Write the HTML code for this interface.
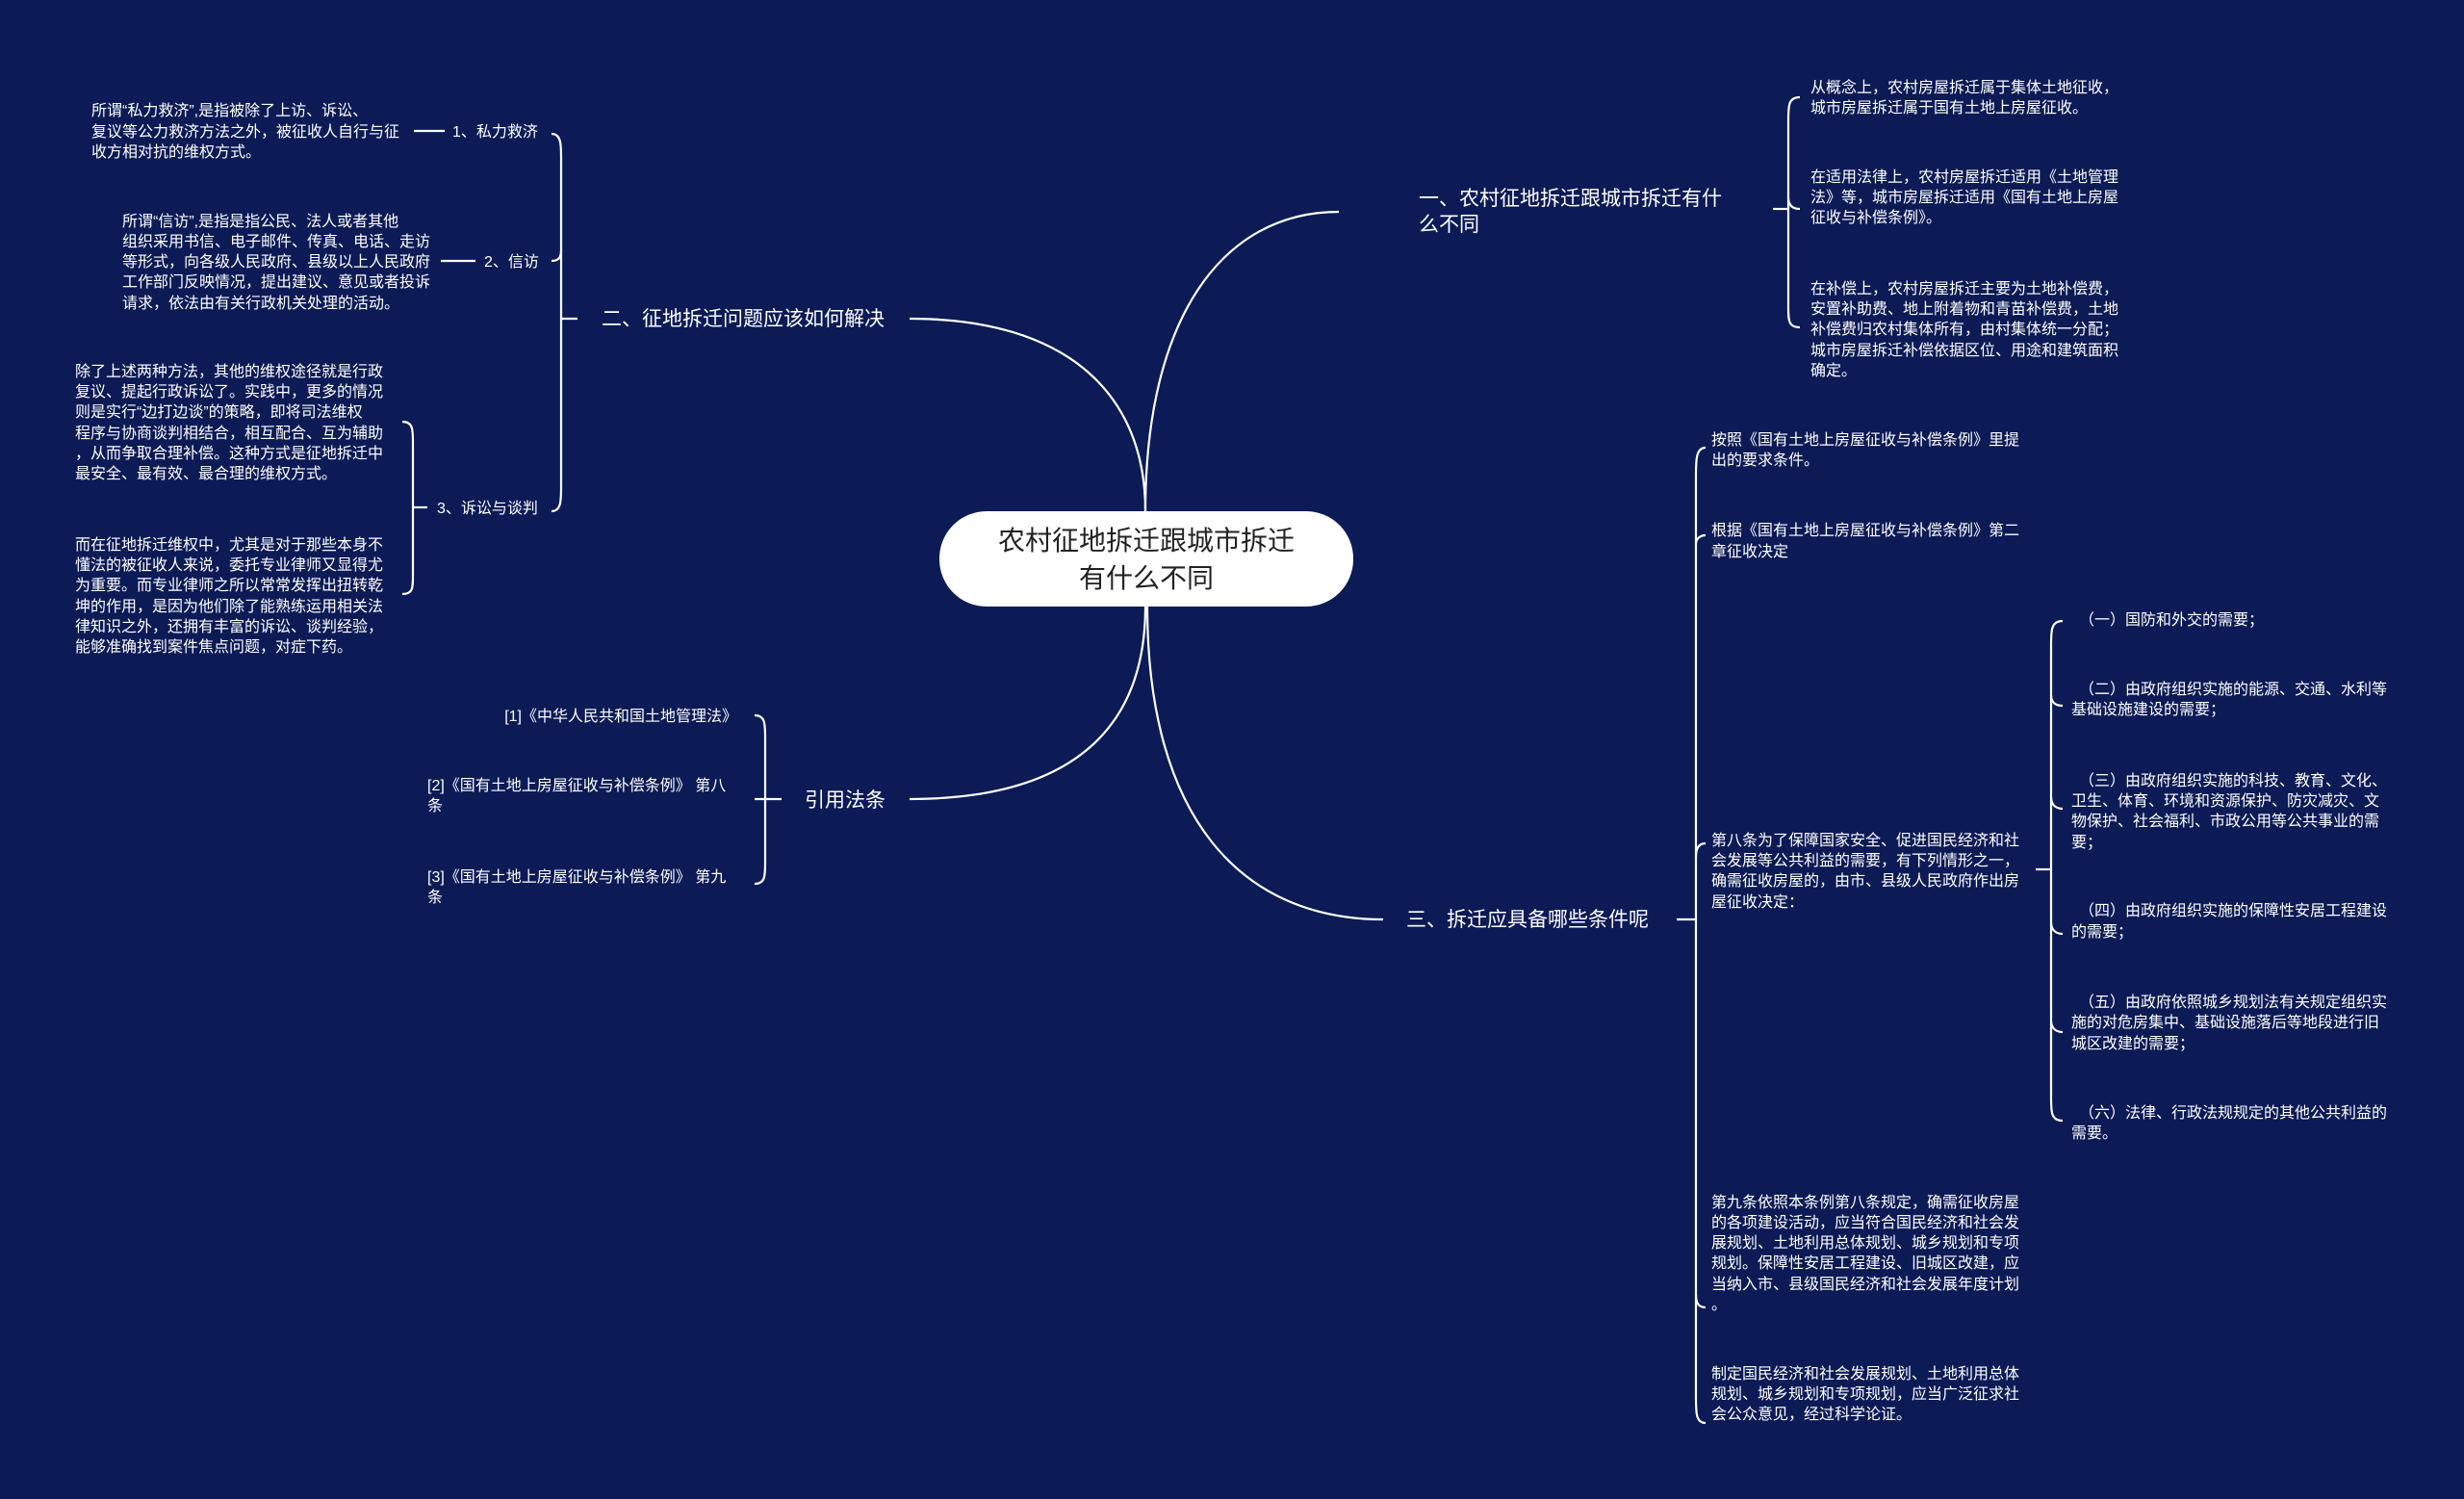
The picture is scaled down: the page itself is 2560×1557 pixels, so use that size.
<!DOCTYPE html>
<html><head><meta charset="utf-8"><style>
html,body{margin:0;padding:0;background:#0c1b56;}
svg{display:block}
text{font-family:"Liberation Sans","Noto Sans CJK SC",sans-serif;fill:#fff;}
.s{font-size:16px}
.m{font-size:21px}
</style></head><body>
<svg width="2560" height="1557" viewBox="0 0 2560 1557" xmlns="http://www.w3.org/2000/svg">
<rect width="2560" height="1557" fill="#0c1b56"/>
<g fill="none" stroke="#fff" stroke-width="2.2">
<!-- main curves -->
<path d="M1190 531 C1190 330 1270 220 1391 220"/>
<path d="M1190 531 C1190 410 1110 331 945 331"/>
<path d="M1190 630 C1190 760 1110 830 945 830"/>
<path d="M1192 630 C1192 850 1290 955 1437 955"/>
<!-- bracket 一 -->
<path d="M1870 101 C1858 101 1858 110 1858 125 L1858 318 C1858 333 1858 340 1870 340"/>
<path d="M1842 217 L1858 217"/>
<path d="M1858 205 C1858 213 1862 217 1870 217"/>
<!-- bracket 二 -->
<path d="M573 139 C583 139 583 150 583 165 L583 505 C583 520 583 531 573 531"/>
<path d="M583 331 L600 331"/>
<path d="M583 260 C583 268 580 271 573 271"/>
<path d="M430 136 L462 136"/>
<path d="M458 271 L494 271"/>
<!-- bracket 3 -->
<path d="M418 438 C429 438 429 446 429 460 L429 597 C429 611 429 617 418 617"/>
<path d="M429 527 L444 527"/>
<!-- bracket 引用 -->
<path d="M784 743 C795 743 795 752 795 766 L795 895 C795 910 795 918 784 918"/>
<path d="M784 830 L812 830"/>
<!-- bracket 三 -->
<path d="M1772 465 C1762 465 1762 478 1762 495 L1762 1450 C1762 1468 1762 1478 1772 1478"/>
<path d="M1742 955 L1762 955"/>
<path d="M1762 565 C1762 560 1766 556 1772 556"/>
<path d="M1762 890 C1762 880 1766 876 1772 876"/>
<path d="M1762 1345 C1762 1355 1766 1358 1772 1358"/>
<!-- sub bracket -->
<path d="M2143 645 C2131 645 2131 655 2131 670 L2131 1140 C2131 1155 2131 1164 2143 1164"/>
<path d="M2115 903 L2131 903"/>
<path d="M2131 722 C2131 730 2136 733 2143 733"/>
<path d="M2131 828 C2131 836 2136 840 2143 840"/>
<path d="M2131 958 C2131 966 2136 970 2143 970"/>
<path d="M2131 1060 C2131 1068 2136 1072 2143 1072"/>
</g>
<!-- center node -->
<rect x="976" y="531" width="430" height="99" rx="49" fill="#fff"/>
<text x="1191" y="571" font-size="28" text-anchor="middle" style="fill:#222">农村征地拆迁跟城市拆迁</text>
<text x="1191" y="610" font-size="28" text-anchor="middle" style="fill:#222">有什么不同</text>

<!-- 一 -->
<text class="m" x="1474" y="213">一、农村征地拆迁跟城市拆迁有什</text>
<text class="m" x="1474" y="240">么不同</text>
<text class="s" x="1881" y="96">从概念上，农村房屋拆迁属于集体土地征收，</text>
<text class="s" x="1881" y="117">城市房屋拆迁属于国有土地上房屋征收。</text>
<text class="s" x="1881" y="189">在适用法律上，农村房屋拆迁适用《土地管理</text>
<text class="s" x="1881" y="210">法》等，城市房屋拆迁适用《国有土地上房屋</text>
<text class="s" x="1881" y="231">征收与补偿条例》。</text>
<text class="s" x="1881" y="305">在补偿上，农村房屋拆迁主要为土地补偿费，</text>
<text class="s" x="1881" y="326">安置补助费、地上附着物和青苗补偿费，土地</text>
<text class="s" x="1881" y="347">补偿费归农村集体所有，由村集体统一分配；</text>
<text class="s" x="1881" y="369">城市房屋拆迁补偿依据区位、用途和建筑面积</text>
<text class="s" x="1881" y="390">确定。</text>

<!-- 二 -->
<text class="m" x="625" y="338">二、征地拆迁问题应该如何解决</text>
<text class="s" x="470" y="142">1、私力救济</text>
<text class="s" x="95" y="120">所谓“私力救济”,是指被除了上访、诉讼、</text>
<text class="s" x="95" y="142">复议等公力救济方法之外，被征收人自行与征</text>
<text class="s" x="95" y="163">收方相对抗的维权方式。</text>
<text class="s" x="503" y="277">2、信访</text>
<text class="s" x="127" y="235">所谓“信访”,是指是指公民、法人或者其他</text>
<text class="s" x="127" y="256">组织采用书信、电子邮件、传真、电话、走访</text>
<text class="s" x="127" y="277">等形式，向各级人民政府、县级以上人民政府</text>
<text class="s" x="127" y="298">工作部门反映情况，提出建议、意见或者投诉</text>
<text class="s" x="127" y="320">请求，依法由有关行政机关处理的活动。</text>
<text class="s" x="454" y="533">3、诉讼与谈判</text>
<text class="s" x="78" y="391">除了上述两种方法，其他的维权途径就是行政</text>
<text class="s" x="78" y="412">复议、提起行政诉讼了。实践中，更多的情况</text>
<text class="s" x="78" y="433">则是实行“边打边谈”的策略，即将司法维权</text>
<text class="s" x="78" y="455">程序与协商谈判相结合，相互配合、互为辅助</text>
<text class="s" x="78" y="476">，从而争取合理补偿。这种方式是征地拆迁中</text>
<text class="s" x="78" y="497">最安全、最有效、最合理的维权方式。</text>
<text class="s" x="78" y="571">而在征地拆迁维权中，尤其是对于那些本身不</text>
<text class="s" x="78" y="592">懂法的被征收人来说，委托专业律师又显得尤</text>
<text class="s" x="78" y="613">为重要。而专业律师之所以常常发挥出扭转乾</text>
<text class="s" x="78" y="635">坤的作用，是因为他们除了能熟练运用相关法</text>
<text class="s" x="78" y="656">律知识之外，还拥有丰富的诉讼、谈判经验，</text>
<text class="s" x="78" y="677">能够准确找到案件焦点问题，对症下药。</text>

<!-- 引用法条 -->
<text class="m" x="836" y="838">引用法条</text>
<text class="s" x="766" y="749" text-anchor="end">[1]《中华人民共和国土地管理法》</text>
<text class="s" x="444" y="821">[2]《国有土地上房屋征收与补偿条例》 第八</text>
<text class="s" x="444" y="842">条</text>
<text class="s" x="444" y="916">[3]《国有土地上房屋征收与补偿条例》 第九</text>
<text class="s" x="444" y="937">条</text>

<!-- 三 -->
<text class="m" x="1461" y="962">三、拆迁应具备哪些条件呢</text>
<text class="s" x="1778" y="462">按照《国有土地上房屋征收与补偿条例》里提</text>
<text class="s" x="1778" y="483">出的要求条件。</text>
<text class="s" x="1778" y="556">根据《国有土地上房屋征收与补偿条例》第二</text>
<text class="s" x="1778" y="578">章征收决定</text>
<text class="s" x="1778" y="878">第八条为了保障国家安全、促进国民经济和社</text>
<text class="s" x="1778" y="899">会发展等公共利益的需要，有下列情形之一，</text>
<text class="s" x="1778" y="920">确需征收房屋的，由市、县级人民政府作出房</text>
<text class="s" x="1778" y="942">屋征收决定：</text>
<text class="s" x="1778" y="1254">第九条依照本条例第八条规定，确需征收房屋</text>
<text class="s" x="1778" y="1275">的各项建设活动，应当符合国民经济和社会发</text>
<text class="s" x="1778" y="1296">展规划、土地利用总体规划、城乡规划和专项</text>
<text class="s" x="1778" y="1317">规划。保障性安居工程建设、旧城区改建，应</text>
<text class="s" x="1778" y="1339">当纳入市、县级国民经济和社会发展年度计划</text>
<text class="s" x="1778" y="1360">。</text>
<text class="s" x="1778" y="1432">制定国民经济和社会发展规划、土地利用总体</text>
<text class="s" x="1778" y="1453">规划、城乡规划和专项规划，应当广泛征求社</text>
<text class="s" x="1778" y="1474">会公众意见，经过科学论证。</text>

<text class="s" x="2160" y="649">（一）国防和外交的需要；</text>
<text class="s" x="2160" y="721">（二）由政府组织实施的能源、交通、水利等</text>
<text class="s" x="2152" y="742">基础设施建设的需要；</text>
<text class="s" x="2160" y="816">（三）由政府组织实施的科技、教育、文化、</text>
<text class="s" x="2152" y="837">卫生、体育、环境和资源保护、防灾减灾、文</text>
<text class="s" x="2152" y="858">物保护、社会福利、市政公用等公共事业的需</text>
<text class="s" x="2152" y="880">要；</text>
<text class="s" x="2160" y="951">（四）由政府组织实施的保障性安居工程建设</text>
<text class="s" x="2152" y="973">的需要；</text>
<text class="s" x="2160" y="1046">（五）由政府依照城乡规划法有关规定组织实</text>
<text class="s" x="2152" y="1067">施的对危房集中、基础设施落后等地段进行旧</text>
<text class="s" x="2152" y="1089">城区改建的需要；</text>
<text class="s" x="2160" y="1161">（六）法律、行政法规规定的其他公共利益的</text>
<text class="s" x="2152" y="1182">需要。</text>
</svg>
</body></html>
